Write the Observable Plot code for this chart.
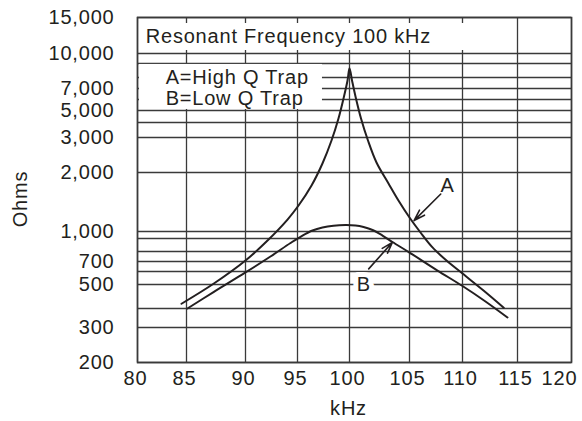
<!DOCTYPE html>
<html><head><meta charset="utf-8">
<script src="https://cdn.jsdelivr.net/npm/d3@7"></script>
<script src="https://cdn.jsdelivr.net/npm/@observablehq/plot@0.6"></script>
<style>
body{margin:0;background:#fff;}
#chart svg text{letter-spacing:0.8px;}
</style></head><body><div id="chart"></div>
<script>
// Axis ticks / grid values
const xTicks = [80, 85, 90, 95, 100, 105, 110, 115, 120];
const yGrid = [200, 300, 400, 500, 600, 700, 800, 900, 1000, 2000, 3000, 4000, 5000, 6000, 7000, 8000, 9000, 10000, 15000];
const yTickLabels = [200, 300, 500, 700, 1000, 2000, 3000, 5000, 7000, 10000, 15000];

// Curve A: High Q trap
const freqA = [84.49, 87.29, 90, 92.12, 94.04, 95.1, 96.35, 97.4, 98.27, 98.94, 99.47, 99.81, 100, 100.21, 100.5, 100.96, 101.54, 102.25, 103.25, 104.08, 105, 106.04, 107.17, 108.49, 110, 111.91, 113.75];
const ohmsA = [418, 505, 709, 884, 1151, 1357, 1717, 2220, 2897, 4310, 6260, 7715, 8652, 7715, 6260, 4310, 2897, 2246, 1758, 1439, 1179, 985, 830, 709, 583, 473, 403];

// Curve B: Low Q trap
const freqB = [85.08, 87.29, 90, 92.4, 94.33, 95.48, 96.44, 97.4, 98.46, 99.62, 100.5, 101.17, 101.92, 102.75, 103.58, 105, 107.64, 110, 112.09, 114.09];
const ohmsB = [400, 466, 592, 748, 864, 941, 1012, 1048, 1070, 1078, 1073, 1054, 1018, 941, 872, 789, 609, 493, 427, 349];

// Boxed annotations (title band + legend box)
const boxText = ["Resonant Frequency 100 kHz", "A=High Q Trap", "B=Low Q Trap"];
const boxX = [80.84, 82.87, 82.87];
const boxY = [12150, 8000, 6100];
const boxX1 = [80.2, 80.2];
const boxX2 = [110.7, 97.4];
const boxY1 = [10344, 5085];
const boxY2 = [14020, 8928];

// Curve labels and arrows
const curveLabels = ["A", "B"];
const curveLabelX = [108.6, 101.2];
const curveLabelY = [1712, 500];
const arrowX1 = [107.95, 101.6];
const arrowY1 = [1553, 625];
const arrowX2 = [105.43, 103.57];
const arrowY2 = [1137, 869];

const seriesA = freqA.map((f, i) => ({f, z: ohmsA[i]}));
const seriesB = freqB.map((f, i) => ({f, z: ohmsB[i]}));
const idx2 = [0, 1];

const ink = "#231f20";
const grid = "#3a3a3a";

const chart = Plot.plot({
  width: 582,
  height: 421,
  marginTop: 17,
  marginRight: 11,
  marginBottom: 59,
  marginLeft: 137,
  style: {fontFamily: "'Liberation Sans', Arial, sans-serif", fontSize: "20px", color: ink, background: "white"},
  x: {type: "linear", domain: xTicks, range: [137, 186, 245, 297, 349, 409, 462, 517, 571], axis: null},
  y: {type: "log", domain: yGrid, range: [362, 327, 308, 284, 271, 261, 251, 238, 231, 172, 137, 122, 110, 99, 88, 77, 63, 53, 17], axis: null},
  marks: [
    Plot.ruleX(xTicks, {stroke: grid, strokeWidth: 1.3}),
    Plot.ruleY(yGrid, {stroke: grid, strokeWidth: 1.3}),
    Plot.frame({stroke: grid, strokeWidth: 1.6}),
    Plot.line(seriesA, {x: "f", y: "z", stroke: ink, strokeWidth: 2, curve: "catmull-rom"}),
    Plot.line(seriesB, {x: "f", y: "z", stroke: ink, strokeWidth: 2, curve: "catmull-rom"}),
    Plot.rect(idx2, {x1: i => boxX1[i], x2: i => boxX2[i], y1: i => boxY1[i], y2: i => boxY2[i], fill: "white"}),
    Plot.text([0, 1, 2], {x: i => boxX[i], y: i => boxY[i], text: i => boxText[i], textAnchor: "start", fill: ink}),
    Plot.text([0], {x: i => curveLabelX[i], y: i => curveLabelY[i], text: i => curveLabels[i], fill: ink}),
    Plot.text([1], {x: i => curveLabelX[i], y: i => curveLabelY[i], text: i => curveLabels[i], fill: ink, stroke: "white", strokeWidth: 10}),
    Plot.arrow(idx2, {x1: i => arrowX1[i], y1: i => arrowY1[i], x2: i => arrowX2[i], y2: i => arrowY2[i], stroke: ink, strokeWidth: 1.6, headLength: 11, headAngle: 35}),
    Plot.text(xTicks.slice(0, -1), {x: d => d, frameAnchor: "bottom", text: d => String(d), textAnchor: "middle", lineAnchor: "top", dy: 8, dx: -2, fill: ink}),
    Plot.text(xTicks.slice(-1), {x: d => d, frameAnchor: "bottom", text: d => String(d), textAnchor: "middle", lineAnchor: "top", dy: 8, dx: -12, fill: ink}),
    Plot.text(yTickLabels, {frameAnchor: "left", y: d => d, text: d3.format(","), textAnchor: "end", lineAnchor: "middle", dx: -23, fill: ink}),
    Plot.text(["Ohms"], {frameAnchor: "left", textAnchor: "middle", lineAnchor: "middle", rotate: -90, dx: -117, dy: 9, fill: ink}),
    Plot.text(["kHz"], {frameAnchor: "bottom", textAnchor: "middle", lineAnchor: "middle", dx: -6, dy: 46, fill: ink})
  ]
});
document.getElementById("chart").appendChild(chart);
</script>
</body></html>
